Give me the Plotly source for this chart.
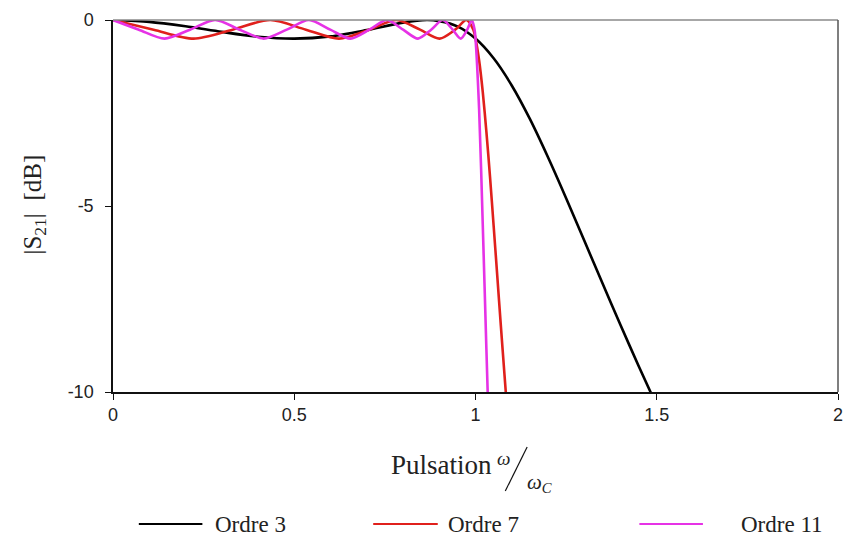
import plotly.graph_objects as go

# ---- data ----
x_ordre3 = [0, 0.1, 0.2, 0.3, 0.4, 0.5, 0.6, 0.7, 0.8, 0.866, 0.9, 0.95, 1.0,
            1.05, 1.1, 1.15, 1.2, 1.25, 1.3, 1.35, 1.4, 1.45, 1.5]
y_ordre3 = [0, -0.05, -0.17, -0.32, -0.45, -0.5, -0.44, -0.27, -0.07, 0, -0.03, -0.17, -0.5,
            -1.03, -1.76, -2.66, -3.69, -4.79, -5.93, -7.07, -8.2, -9.3, -10.37]

x_ordre7 = [0, 0.112, 0.2225, 0.330, 0.434, 0.532, 0.6235, 0.707, 0.782, 0.847, 0.901,
            0.944, 0.975, 0.994, 1.0, 1.01, 1.02, 1.03, 1.04, 1.05, 1.06, 1.07, 1.08, 1.09]
y_ordre7 = [0, -0.26, -0.5, -0.26, 0, -0.26, -0.5, -0.26, 0, -0.26, -0.5,
            -0.26, 0, -0.26, -0.5, -1.09, -1.93, -3.0, -4.21, -5.53, -6.87, -8.23, -9.54, -10.85]

x_ordre11 = [0, 0.0713, 0.1423, 0.2125, 0.2817, 0.3495, 0.4154, 0.4794, 0.5406, 0.5993,
             0.6549, 0.7071, 0.7557, 0.8004, 0.8413, 0.8777, 0.9096, 0.9370, 0.9595,
             0.9772, 0.9898, 0.9975, 1.0, 1.01, 1.02, 1.03, 1.04]
y_ordre11 = [0, -0.26, -0.5, -0.26, 0, -0.26, -0.5, -0.26, 0, -0.26,
             -0.5, -0.26, 0, -0.26, -0.5, -0.26, 0, -0.26, -0.5,
             -0.26, 0, -0.26, -0.5, -2.41, -5.49, -8.83, -12.07]

series_names = ["Ordre 3", "Ordre 7", "Ordre 11"]
series_colors = ["#000000", "#e0201c", "#e632e6"]

x_tickvals = [0, 0.5, 1, 1.5, 2]
x_ticktext = ["0", "0.5", "1", "1.5", "2"]
y_tickvals = [0, -5, -10]
y_ticktext = ["0", "-5", "-10"]

# ---- figure ----
W, H = 850, 542
L, R, T, B = 113, 7, 20, 150
pw, ph = W - L - R, H - T - B


def px(sx):
    return (sx - L) / pw


def py(sy):
    return (H - B - sy) / ph


fig = go.Figure()
for xs, ys, name, col in zip([x_ordre3, x_ordre7, x_ordre11],
                             [y_ordre3, y_ordre7, y_ordre11],
                             series_names, series_colors):
    fig.add_trace(go.Scatter(x=xs, y=ys, mode="lines", name=name,
                             line=dict(color=col, width=2.6, shape="spline", smoothing=0.8),
                             showlegend=False))

tick_font = dict(family="Liberation Sans, Arial", size=18, color="#222")
fig.update_xaxes(range=[0, 2], tickvals=x_tickvals, ticktext=x_ticktext,
                 showgrid=False, zeroline=False, showline=True, linecolor="#111",
                 linewidth=1.5, ticks="outside", ticklen=6, tickcolor="#111",
                 tickfont=tick_font, ticklabelstandoff=0, ticklabeloverflow="allow")
fig.update_yaxes(range=[-10, 0], tickvals=y_tickvals, ticktext=y_ticktext,
                 showgrid=False, zeroline=False, showline=True, linecolor="#111",
                 linewidth=1.5, ticks="outside", ticklen=6, tickcolor="#111",
                 tickfont=tick_font, ticklabelstandoff=8, ticklabeloverflow="allow")

shapes = [
    dict(type="line", xref="paper", yref="paper", x0=0, x1=1, y0=1, y1=1,
         line=dict(color="#8a8a8a", width=1.5)),
    dict(type="line", xref="paper", yref="paper", x0=1, x1=1, y0=0, y1=1,
         line=dict(color="#555", width=1.5)),
    # slash of the fraction in the x title
    dict(type="line", xref="paper", yref="paper", x0=px(508), x1=px(530),
         y0=py(491), y1=py(447), line=dict(color="#111", width=1.2)),
]

serif = "Liberation Serif, Times New Roman"
annotations = [
    dict(text="|S<sub>21</sub>|  [dB]", textangle=-90, xref="paper", yref="paper",
         x=px(33), y=py(205), xanchor="center", yanchor="middle", showarrow=False,
         font=dict(family=serif, size=25, color="#222")),
    dict(text="Pulsation", xref="paper", yref="paper", x=px(391), y=py(465),
         xanchor="left", yanchor="middle", showarrow=False,
         font=dict(family=serif, size=27, color="#222")),
    dict(text="<i>ω</i>", xref="paper", yref="paper", x=px(506), y=py(458),
         xanchor="center", yanchor="middle", showarrow=False,
         font=dict(family=serif, size=19, color="#222")),
    dict(text="<i>ω<sub>C</sub></i>", xref="paper", yref="paper", x=px(528), y=py(483),
         xanchor="left", yanchor="middle", showarrow=False,
         font=dict(family=serif, size=21, color="#222")),
]

# manual legend
legend_lines = [(139, 203, 214), (375, 440, 448), (643, 707, 743)]
leg_y = 524
for (x0, x1, tx), name, col in zip(legend_lines, series_names, series_colors):
    shapes.append(dict(type="line", xref="paper", yref="paper", x0=px(x0), x1=px(x1),
                       y0=py(leg_y), y1=py(leg_y), line=dict(color=col, width=2)))
    annotations.append(dict(text=name, xref="paper", yref="paper", x=px(tx), y=py(leg_y),
                            xanchor="left", yanchor="middle", showarrow=False,
                            font=dict(family=serif, size=23, color="#222")))

fig.update_layout(width=W, height=H, margin=dict(l=L, r=R, t=T, b=B),
                  plot_bgcolor="white", paper_bgcolor="white",
                  shapes=shapes, annotations=annotations, showlegend=False)

fig.write_html("out.html", config={"displayModeBar": False},
               post_script="document.body.style.margin='0';document.body.style.overflow='hidden';")
